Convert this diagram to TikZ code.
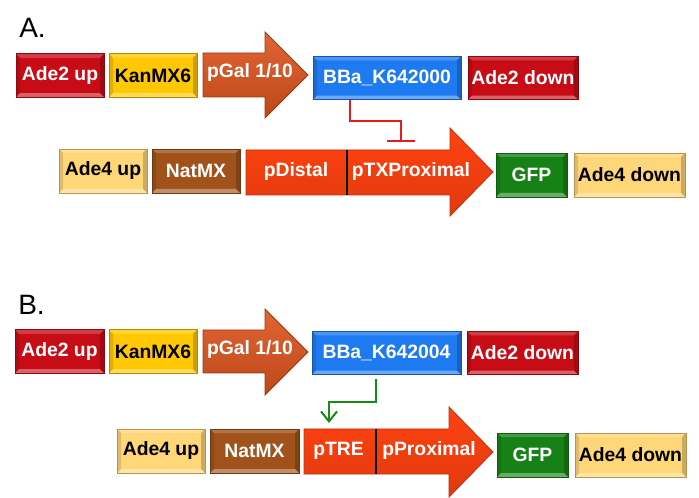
\documentclass[tikz,border=0pt]{standalone}
\usepackage{fontspec}
\setmainfont{Liberation Sans}
\usetikzlibrary{arrows.meta,calc}
\definecolor{adetwo}{RGB}{200,12,22}
\definecolor{kanyel}{RGB}{255,200,0}
\definecolor{galor}{RGB}{222,84,30}
\definecolor{bbablue}{RGB}{30,122,240}
\definecolor{adefour}{RGB}{255,214,120}
\definecolor{natbrown}{RGB}{160,82,26}
\definecolor{promred}{RGB}{255,66,16}
\definecolor{gfpgreen}{RGB}{22,130,22}
\definecolor{repred}{RGB}{228,28,28}
\definecolor{actgreen}{RGB}{22,140,22}

\tikzset{
  bevel/.style={path picture={
    \fill[white,opacity=.35] (path picture bounding box.south west) -- (path picture bounding box.south east)
      -- ([shift={(-3pt,3pt)}]path picture bounding box.south east) -- ([shift={(3pt,3pt)}]path picture bounding box.south west) -- cycle;
    \fill[white,opacity=.2] (path picture bounding box.north west) -- (path picture bounding box.north east)
      -- ([shift={(-3pt,-3pt)}]path picture bounding box.north east) -- ([shift={(3pt,-3pt)}]path picture bounding box.north west) -- cycle;
    \fill[black,opacity=.12] (path picture bounding box.south west) -- (path picture bounding box.north west)
      -- ([shift={(3pt,-3pt)}]path picture bounding box.north west) -- ([shift={(3pt,3pt)}]path picture bounding box.south west) -- cycle;
    \fill[black,opacity=.2] (path picture bounding box.south east) -- (path picture bounding box.north east)
      -- ([shift={(-3pt,-3pt)}]path picture bounding box.north east) -- ([shift={(-3pt,3pt)}]path picture bounding box.south east) -- cycle;
  }},
  genetxt/.style={text=white, font=\fontsize{14.5}{16}\selectfont\bfseries, inner sep=0pt},
  gene/.style={genetxt, draw=#1!70!black, fill=#1, line width=0.6pt, minimum height=32.5pt, bevel},
  galarrow/.style={draw=galor!70!black, line width=0.6pt, top color=galor!90!white, bottom color=galor!85!black},
  promarrow/.style={draw=promred!75!black, line width=0.6pt, top color=promred, bottom color=promred!88!black},
  repress/.style={draw=repred, line width=1.5pt, -{Bar[width=21pt,line width=1.5pt]}},
  activ/.style={draw=actgreen, line width=1.5pt, -{Straight Barb[length=7.5pt,width=12pt,line width=1.5pt]}},
  panel/.style={font=\fontsize{21}{24}\selectfont, anchor=base west, inner sep=0pt}
}

\begin{document}
\begin{tikzpicture}[x=0.75pt,y=-0.75pt]
\useasboundingbox (0,0) rectangle (699,498);

% panel A
\node[panel] (labA) at (19,38) {A.};
\node[gene=adetwo, minimum width=66pt] (ade2upA) at (60,75.5) {Ade2 up};
\node[gene=kanyel, minimum width=66pt, text=black] (kanA) at (153,75.5) {KanMX6};
\draw[galarrow] (203,53) -- (265,53) -- (265,32) -- (308,75) -- (265,118) -- (265,97) -- (203,97) -- cycle;
\node[genetxt] (galA) at (250,73) {pGal 1/10};
\node[gene=bbablue, minimum width=111pt] (bbaA) at (387,78) {BBa\_K642000};
\node[gene=adetwo, minimum width=82.5pt] (ade2downA) at (523,78) {Ade2 down};

\node[gene=adefour, minimum width=66pt, minimum height=33pt, text=black] (ade4upA) at (103,171) {Ade4 up};
\node[gene=natbrown, minimum width=66pt, minimum height=33pt] (natA) at (196,171) {NatMX};
\draw[promarrow] (246,150) -- (450,150) -- (450,128) -- (493,172) -- (450,216) -- (450,195) -- (246,195) -- cycle;
\draw[black, line width=0.8pt] (347,150) -- (347,195);
\node[genetxt] (distA) at (296,172) {pDistal};
\node[genetxt] (proxA) at (411,172) {pTXProximal};
\node[gene=gfpgreen, minimum width=53.25pt, minimum height=33pt] (gfpA) at (531.5,175) {GFP};
\node[gene=adefour, minimum width=83.25pt, minimum height=33pt, text=black] (ade4downA) at (629.5,175) {Ade4 down};

\coordinate (repEnd) at (401,142);
\draw[repress] ($(bbaA.south)+(-37,0)$) -- ++(0,21) -| (repEnd);

% panel B
\node[panel] (labB) at (18,315) {B.};
\node[gene=adetwo, minimum width=66.75pt] (ade2upB) at (59.5,351.5) {Ade2 up};
\node[gene=kanyel, minimum width=66pt, text=black] (kanB) at (153,351.5) {KanMX6};
\draw[galarrow] (203,330) -- (265,330) -- (265,309) -- (308,352) -- (265,395) -- (265,373) -- (203,373) -- cycle;
\node[genetxt] (galB) at (250,350) {pGal 1/10};
\node[gene=bbablue, minimum width=111.75pt] (bbaB) at (386.5,353) {BBa\_K642004};
\node[gene=adetwo, minimum width=83.25pt] (ade2downB) at (522.5,353) {Ade2 down};

\node[gene=adefour, minimum width=66pt, minimum height=33pt, text=black] (ade4upB) at (161,451) {Ade4 up};
\node[gene=natbrown, minimum width=66.75pt, minimum height=33pt] (natB) at (254.5,451) {NatMX};
\draw[promarrow] (304,429) -- (449,429) -- (449,407) -- (493,452) -- (449,497) -- (449,474) -- (304,474) -- cycle;
\draw[black, line width=0.8pt] (376,429) -- (376,474);
\node[genetxt] (treB) at (338.5,451) {pTRE};
\node[genetxt] (proxB) at (429,451) {pProximal};
\node[gene=gfpgreen, minimum width=53.25pt, minimum height=33pt] (gfpB) at (532.5,455) {GFP};
\node[gene=adefour, minimum width=83.25pt, minimum height=33pt, text=black] (ade4downB) at (630.5,455) {Ade4 down};

\coordinate (actEnd) at (329,423);
\draw[activ] ($(bbaB.south)+(-10.5,4)$) -- ++(0,23) -| (actEnd);
\end{tikzpicture}
\end{document}
